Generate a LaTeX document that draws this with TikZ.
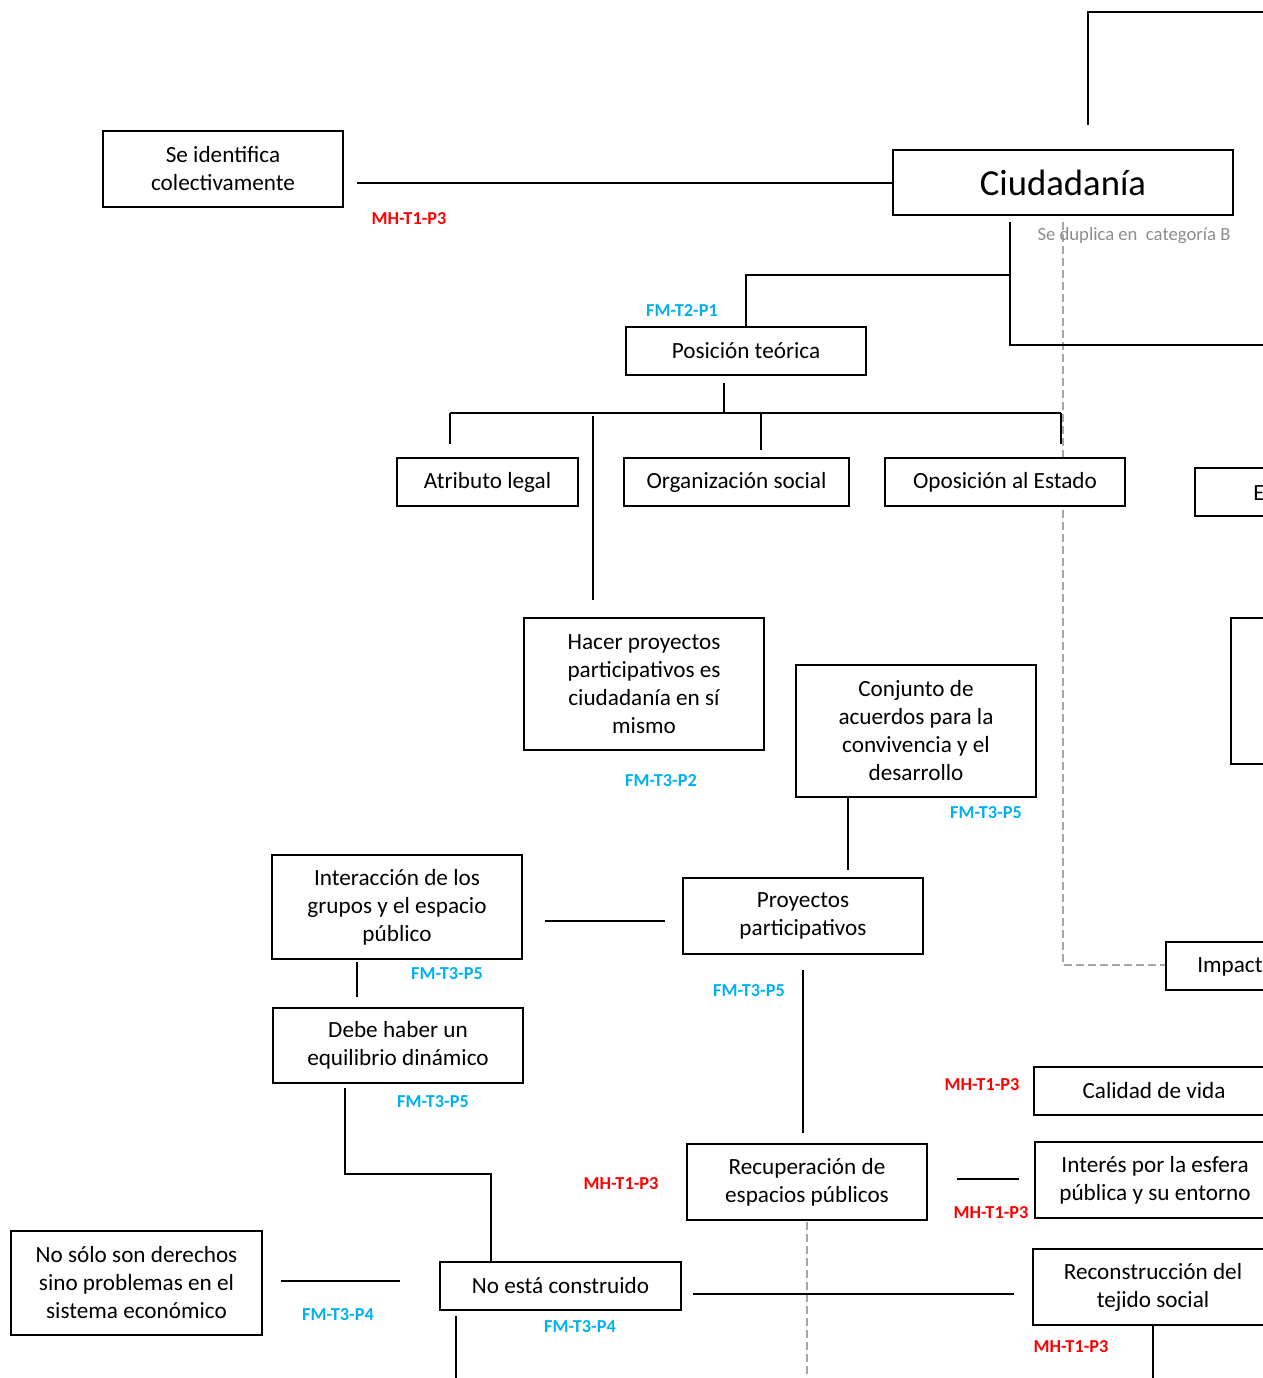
\documentclass[tikz,border=0pt]{standalone}
\usepackage{fontspec}
\setmainfont{Carlito}
\definecolor{lblred}{HTML}{FF0000}
\definecolor{lblblue}{HTML}{00B0F0}
\definecolor{notegray}{HTML}{8C8C8C}
\definecolor{dashgray}{HTML}{A6A6A6}
\begin{document}
\begin{tikzpicture}[x=0.75pt,y=-0.75pt,
  box/.style={draw=black, line width=1.8pt, fill=white, inner sep=0pt, align=center,
    font=\fontsize{17.4}{21}\selectfont},
  thinbox/.style={draw=black, line width=0.9pt, inner sep=0pt},
  conn/.style={draw=black, line width=0.9pt},
  dconn/.style={draw=dashgray, line width=0.9pt, dash pattern=on 6pt off 3pt},
  redlbl/.style={text=lblred, font=\fontsize{13.7}{16}\selectfont\bfseries, inner sep=0pt},
  bluelbl/.style={text=lblblue, font=\fontsize{13.7}{16}\selectfont\bfseries, inner sep=0pt},
  note/.style={text=notegray, font=\fontsize{14}{16}\selectfont, inner sep=0pt},
  btext/.style={font=\fontsize{17.4}{21}\selectfont, inner sep=0pt}
]
\useasboundingbox (0,0) rectangle (1263,1378);
\clip (0,0) rectangle (1263,1378);

% connectors drawn first (under boxes)
\coordinate (topA) at (1088,125);
\coordinate (topB) at (1088,12);
\coordinate (topC) at (1290,12);
\draw[conn] (topA) -- (topB) -- (topC);

% dashed line (behind boxes)
\coordinate (dA) at (1063,222);
\coordinate (dB) at (1063,965);
\coordinate (dE) at (1166,965);
\coordinate (dC) at (807,1222);
\coordinate (dD) at (807,1390);
\draw[dconn] (dA) -- (dB) -- (dE);
\draw[dconn] (dC) -- (dD);

% nodes
\node[box, minimum width=180pt, minimum height=57pt] (sic) at (223,169) {Se identifica\\colectivamente};
\node[box, minimum width=255pt, minimum height=48.75pt, font=\fontsize{27.5}{32}\selectfont] (ciud) at (1063,182.5) {Ciudadanía};
\node[box, minimum width=180pt, minimum height=36pt] (post) at (746,351) {Posición teórica};
\node[box, minimum width=135.75pt, minimum height=36pt] (atri) at (487.5,482) {Atributo legal};
\node[box, minimum width=168.75pt, minimum height=36pt] (orga) at (736.5,482) {Organización social};
\node[box, minimum width=180pt, minimum height=36pt] (opos) at (1005,482) {Oposición al Estado};
\node[box, minimum width=180pt, minimum height=36pt] (ebox) at (1315,492) {};
\node[btext, anchor=west] (etext) at (1253,493) {E};
\node[thinbox, minimum width=180pt, minimum height=109.5pt] (blank) at (1351,691) {};
\node[box, minimum width=180pt, minimum height=99pt] (hacer) at (644,684) {Hacer proyectos\\participativos es\\ciudadanía en sí\\mismo};
\node[box, minimum width=180pt, minimum height=99pt] (conj) at (916,731) {Conjunto de\\acuerdos para la\\convivencia y el\\desarrollo};
\node[box, minimum width=180pt, minimum height=57pt] (proy) at (803,916) {Proyectos\\participativos};
\node[box, minimum width=187.5pt, minimum height=78pt] (inter) at (397,907) {Interacción de los\\grupos y el espacio\\público};
\node[box, minimum width=187.5pt, minimum height=56.25pt] (debe) at (398,1045.5) {Debe haber un\\equilibrio dinámico};
\node[box, minimum width=180pt, minimum height=57pt] (recu) at (807,1182) {Recuperación de\\espacios públicos};
\node[box, minimum width=180pt, minimum height=36pt] (calid) at (1154,1091) {Calidad de vida};
\node[box, minimum width=180pt, minimum height=57pt] (inte) at (1155,1180) {Interés por la esfera\\pública y su entorno};
\node[box, minimum width=180pt, minimum height=57pt] (reco) at (1153,1287) {Reconstrucción del\\tejido social};
\node[box, minimum width=180pt, minimum height=36pt] (impa) at (1286,966) {};
\node[btext, anchor=west] (impt) at (1197,967) {Impact};
\node[box, minimum width=180.75pt, minimum height=36pt] (noes) at (560.5,1286) {No está construido};
\node[box, minimum width=188.25pt, minimum height=78pt] (nosolo) at (136.5,1283) {No sólo son derechos\\sino problemas en el\\sistema económico};

% labels
\node[redlbl] (l1) at (409,219) {MH-T1-P3};
\node[bluelbl] (l2) at (682,311) {FM-T2-P1};
\node[bluelbl] (l3) at (661,781) {FM-T3-P2};
\node[bluelbl] (l4) at (986,813) {FM-T3-P5};
\node[bluelbl] (l5) at (749,991) {FM-T3-P5};
\node[bluelbl] (l6) at (447,974) {FM-T3-P5};
\node[bluelbl] (l7) at (433,1102) {FM-T3-P5};
\node[redlbl] (l8) at (621,1184) {MH-T1-P3};
\node[redlbl] (l9) at (982,1085) {MH-T1-P3};
\node[redlbl] (l10) at (991,1213) {MH-T1-P3};
\node[redlbl] (l11) at (1071,1347) {MH-T1-P3};
\node[bluelbl] (l12) at (580,1327) {FM-T3-P4};
\node[bluelbl] (l13) at (338,1315) {FM-T3-P4};
\node[note] (dup) at (1134,236) {Se duplica en\ \ categoría B};

% coordinates for free ends
\coordinate (c1) at (357,183);
\coordinate (c2a) at (1010,222);
\coordinate (c2b) at (1010,345);
\coordinate (c2c) at (1290,345);
\coordinate (c2d) at (1010,275);
\coordinate (c2e) at (746,275);
\coordinate (c3a) at (724,383);
\coordinate (c3b) at (724,413);
\coordinate (c3l) at (450,413);
\coordinate (c3r) at (1061,413);
\coordinate (c3m) at (761,413);
\coordinate (c4a) at (450,444);
\coordinate (c4b) at (761,450);
\coordinate (c4c) at (1061,444);
\coordinate (c5a) at (593,416);
\coordinate (c5b) at (593,600);
\coordinate (c6a) at (848,797);
\coordinate (c6b) at (848,870);
\coordinate (c7a) at (545,921);
\coordinate (c7b) at (665,921);
\coordinate (c8a) at (357,962);
\coordinate (c8b) at (357,997);
\coordinate (c9a) at (345,1088);
\coordinate (c9b) at (345,1174);
\coordinate (c9c) at (491,1174);
\coordinate (c9d) at (491,1262);
\coordinate (c10a) at (803,970);
\coordinate (c10b) at (803,1133);
\coordinate (c11a) at (957,1179);
\coordinate (c11b) at (1019,1179);
\coordinate (c12a) at (693,1294);
\coordinate (c12b) at (1014,1294);
\coordinate (c13a) at (281,1281);
\coordinate (c13b) at (400,1281);
\coordinate (c14a) at (456,1316);
\coordinate (c14b) at (456,1390);
\coordinate (c15b) at (1153,1390);

\draw[conn] (c1) -- (ciud.west |- c1);
\draw[conn] (c2a) -- (c2b) -- (c2c);
\draw[conn] (c2d) -- (c2e) -- (post.north -| c2e);
\draw[conn] (c3a) -- (c3b);
\draw[conn] (c3l) -- (c3r);
\draw[conn] (c3l) -- (c4a);
\draw[conn] (c3m) -- (c4b);
\draw[conn] (c3r) -- (c4c);
\draw[conn] (c5a) -- (c5b);
\draw[conn] (c6a) -- (c6b);
\draw[conn] (c7a) -- (c7b);
\draw[conn] (c8a) -- (c8b);
\draw[conn] (c9a) -- (c9b) -- (c9c) -- (c9d);
\draw[conn] (c10a) -- (c10b);
\draw[conn] (c11a) -- (c11b);
\draw[conn] (c12a) -- (c12b);
\draw[conn] (c13a) -- (c13b);
\draw[conn] (c14a) -- (c14b);
\draw[conn] (reco.south) -- (c15b);
\end{tikzpicture}
\end{document}
